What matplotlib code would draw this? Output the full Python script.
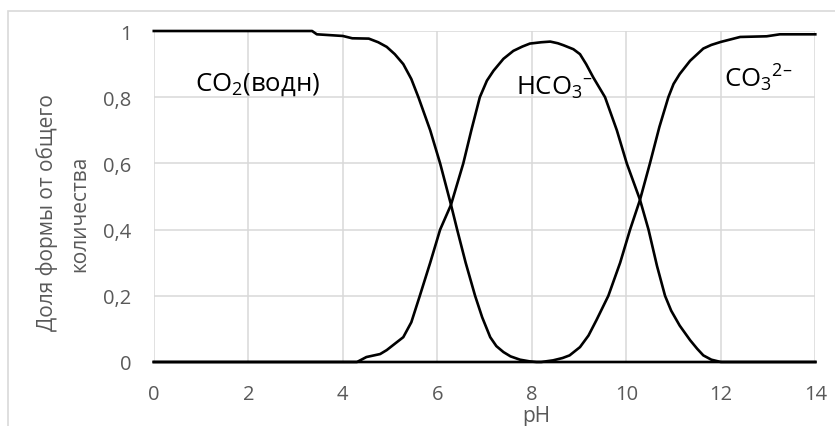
import numpy as np
import matplotlib
matplotlib.use("Agg")
from matplotlib import pyplot as plt
from matplotlib.patches import Rectangle

plt.rcParams['font.family'] = ['Open Sans', 'DejaVu Sans']
plt.rcParams['mathtext.fontset'] = 'custom'
plt.rcParams['mathtext.rm'] = 'Open Sans'
plt.rcParams['mathtext.it'] = 'Open Sans'
plt.rcParams['mathtext.bf'] = 'Open Sans'

# fraction of each carbonate form vs pH
ph_co2 = [0, 3.35, 3.45, 4.0, 4.2, 4.55, 4.75, 4.93, 5.1, 5.28, 5.45, 5.6, 5.85, 6.06,
          6.29, 6.42, 6.6, 6.8, 6.95, 7.12, 7.25, 7.4, 7.55, 7.75, 7.95, 8.1, 14]
frac_co2 = [1.0, 1.0, 0.99, 0.985, 0.978, 0.977, 0.966, 0.952, 0.93, 0.90, 0.855, 0.80, 0.70, 0.60,
            0.475, 0.40, 0.30, 0.20, 0.135, 0.075, 0.048, 0.03, 0.017, 0.007, 0.002, 0.0, 0.0]

ph_hco3 = [0, 4.3, 4.5, 4.79, 4.93, 5.1, 5.28, 5.45, 5.63, 5.85, 6.06, 6.29, 6.55,
           6.72, 6.9, 7.05, 7.19, 7.4, 7.61, 7.8, 7.96, 8.2, 8.39, 8.55, 8.67, 8.88, 9.02,
           9.15, 9.3, 9.55, 9.8, 10.01, 10.29, 10.47, 10.65, 10.82, 10.95, 11.13, 11.35,
           11.5, 11.63, 11.8, 12.0, 14]
frac_hco3 = [0, 0, 0.015, 0.024, 0.036, 0.055, 0.075, 0.12, 0.20, 0.30, 0.40, 0.475, 0.60,
             0.70, 0.80, 0.85, 0.88, 0.916, 0.94, 0.953, 0.962, 0.966, 0.968, 0.963, 0.957,
             0.945, 0.93, 0.90, 0.86, 0.80, 0.70, 0.60, 0.49, 0.40, 0.29, 0.20, 0.155, 0.11,
             0.066, 0.04, 0.02, 0.007, 0.0, 0.0]

ph_co3 = [0, 8.2, 8.45, 8.65, 8.8, 9.02, 9.2, 9.37, 9.62, 9.87, 10.08, 10.29, 10.5, 10.7,
          10.89, 11.0, 11.13, 11.35, 11.63, 11.8, 12.0, 12.41, 12.97, 13.25, 14]
frac_co3 = [0, 0, 0.005, 0.012, 0.02, 0.045, 0.08, 0.127, 0.20, 0.30, 0.40, 0.49, 0.60,
            0.71, 0.80, 0.84, 0.87, 0.91, 0.947, 0.958, 0.967, 0.982, 0.984, 0.99, 0.99]

xticks = [0, 2, 4, 6, 8, 10, 12, 14]
yticks = [0, 0.2, 0.4, 0.6, 0.8, 1.0]
ytick_labels = ['0', '0,2', '0,4', '0,6', '0,8', '1']

gray = '#595959'
grid = '#d9d9d9'

fig = plt.figure(figsize=(8.35, 4.27), dpi=100)
# chart area border (only top/left visible in the crop)
fig.patches.append(Rectangle((8 / 835, -0.1), 1.2, 1 - 12 / 427 + 0.1,
                             transform=fig.transFigure, fill=False,
                             edgecolor=grid, linewidth=1.2))

ax = fig.add_axes([153.8 / 835, 64 / 427, 661.5 / 835, 331 / 427])
for s in ax.spines.values():
    s.set_visible(False)

ax.set_xlim(0, 14)
ax.set_ylim(0, 1)
ax.set_xticks(xticks)
ax.set_yticks(yticks)
ax.set_yticklabels(ytick_labels)
ax.tick_params(length=0, colors=gray, labelsize=14.5)
ax.tick_params(axis='y', pad=16)
ax.tick_params(axis='x', pad=16)
ax.grid(True, color=grid, linewidth=1.1)
ax.set_axisbelow(True)

for x, y in [(ph_co2, frac_co2), (ph_hco3, frac_hco3), (ph_co3, frac_co3)]:
    ax.plot(x, y, color='black', linewidth=1.9, clip_on=False, zorder=3,
            solid_joinstyle='round')

ax.text(0.87, 0.84, 'CO$_2$(водн)', fontsize=18.5, va='center', ha='left')
ax.text(7.67, 0.83, 'HCO$_3$$^{–}$', fontsize=18.5, va='center', ha='left')
ax.text(12.07, 0.86, 'CO$_3$$^{2–}$', fontsize=18.5, va='center', ha='left')

fig.text(47 / 835, 1 - 213 / 427, 'Доля формы от общего', rotation=90,
         ha='center', va='center', color=gray, fontsize=15)
fig.text(80 / 835, 1 - 214 / 427, 'количества', rotation=90,
         ha='center', va='center', color=gray, fontsize=15)
fig.text(536 / 835, 1 - 417 / 427, 'pH', ha='center', va='center',
         color=gray, fontsize=15)

fig.savefig('out.png', dpi=100)
